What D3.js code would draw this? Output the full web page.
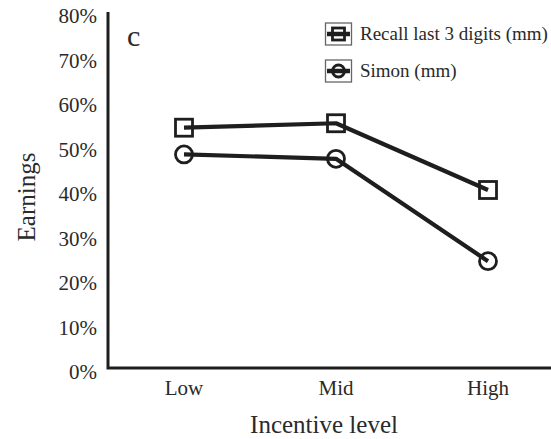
<!DOCTYPE html>
<html>
<head>
<meta charset="utf-8">
<script src="https://cdn.jsdelivr.net/npm/d3@7/dist/d3.min.js"></script>
<style>
  html, body { margin: 0; padding: 0; background: #fff; }
  svg { display: block; }
  text { font-family: "Liberation Serif", "DejaVu Serif", serif; fill: #2a2a2a; }
</style>
</head>
<body>
<svg id="chart" width="551" height="439" font-family="Liberation Serif, serif"></svg>
<script>
const categories = ["Low", "Mid", "High"];
const recallValues = [54, 55, 40];
const simonValues = [48, 47, 24];
const yTicks = [0, 10, 20, 30, 40, 50, 60, 70, 80];
const seriesNames = ["Recall last 3 digits (mm)", "Simon (mm)"];

const svg = d3.select("#chart");
const ink = "#1e1e1e";

const x = d3.scalePoint().domain(categories).range([108, 564]).padding(0.5);
const y = d3.scaleLinear().domain([0, 80]).range([368, 12]);

// y tick labels
svg.append("g").selectAll("text").data(yTicks).join("text")
  .attr("x", 97).attr("y", d => y(d) + 11)
  .attr("text-anchor", "end").attr("font-size", 21)
  .text(d => d + "%");

// x tick labels
svg.append("g").selectAll("text").data(categories).join("text")
  .attr("x", d => x(d)).attr("y", 395)
  .attr("text-anchor", "middle").attr("font-size", 21)
  .text(d => d);

// axes lines
svg.append("path")
  .attr("d", `M${x.range()[0]},${y(80)}V${y(0)}H551`)
  .attr("fill", "none").attr("stroke", ink).attr("stroke-width", 3);

// axis titles
svg.append("text").attr("x", 324).attr("y", 433)
  .attr("text-anchor", "middle").attr("font-size", 25).text("Incentive level");
svg.append("text").attr("transform", "translate(35,197) rotate(-90)")
  .attr("text-anchor", "middle").attr("font-size", 25).text("Earnings");

// panel letter
svg.append("text").attr("x", 127).attr("y", 46).attr("font-size", 30).text("c");

const line = d3.line().x((d, i) => x(categories[i])).y(d => y(d));

const series = [
  { name: seriesNames[0], values: recallValues, shape: "square" },
  { name: seriesNames[1], values: simonValues, shape: "circle" }
];

function drawMarker(g, shape, cx, cy, s, sw) {
  if (shape === "square") {
    g.append("rect").attr("x", cx - s / 2).attr("y", cy - s / 2)
      .attr("width", s).attr("height", s)
      .attr("fill", "none").attr("stroke", ink).attr("stroke-width", sw);
  } else {
    g.append("circle").attr("cx", cx).attr("cy", cy).attr("r", s / 2)
      .attr("fill", "none").attr("stroke", ink).attr("stroke-width", sw);
  }
}

series.forEach(s => {
  svg.append("path").datum(s.values).attr("d", line)
    .attr("fill", "none").attr("stroke", ink).attr("stroke-width", 4.2)
    .attr("stroke-linejoin", "round");
  const g = svg.append("g");
  s.values.forEach((v, i) => drawMarker(g, s.shape, x(categories[i]), y(v), 17, 2.8));
});

// legend
const legend = svg.append("g");
series.forEach((s, i) => {
  const cy = 34 + i * 37;
  const g = legend.append("g");
  g.append("rect").attr("x", 325.5).attr("y", cy - 11).attr("width", 26).attr("height", 22)
    .attr("fill", "none").attr("stroke", "#666").attr("stroke-width", 1.3);
  g.append("line").attr("x1", 327).attr("x2", 350).attr("y1", cy).attr("y2", cy)
    .attr("stroke", ink).attr("stroke-width", 4.5);
  drawMarker(g, s.shape, 338.5, cy, 12, 2.8);
  g.append("text").attr("x", 360).attr("y", cy + 6).attr("font-size", 19).text(s.name);
});
</script>
</body>
</html>
